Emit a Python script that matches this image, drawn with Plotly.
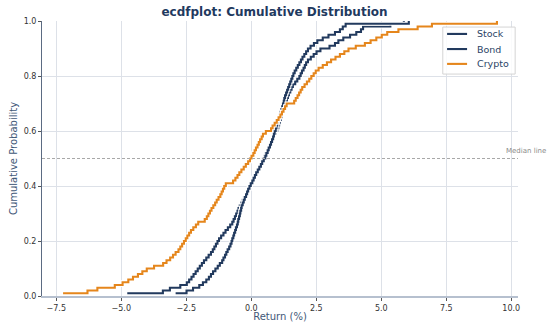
import plotly.graph_objects as go

# Daily returns (%) per asset, 100 observations each
stock_returns = [
    -4.77, -3.40, -3.13, -2.73, -2.48, -2.39, -2.30, -2.22, -2.14, -2.06,
    -1.98, -1.90, -1.82, -1.73, -1.64, -1.55, -1.48, -1.42, -1.36, -1.30,
    -1.24, -1.16, -1.07, -0.99, -0.90, -0.81, -0.73, -0.68, -0.63, -0.58,
    -0.53, -0.49, -0.44, -0.39, -0.33, -0.28, -0.23, -0.17, -0.12, -0.07,
    -0.02, 0.03, 0.08, 0.14, 0.19, 0.24, 0.30, 0.35, 0.40, 0.45,
    0.50, 0.55, 0.61, 0.66, 0.70, 0.75, 0.80, 0.85, 0.90, 0.95,
    1.00, 1.04, 1.07, 1.10, 1.14, 1.17, 1.20, 1.23, 1.27, 1.30,
    1.33, 1.37, 1.41, 1.45, 1.50, 1.55, 1.60, 1.69, 1.77, 1.85,
    1.90, 1.95, 2.01, 2.06, 2.11, 2.18, 2.29, 2.40, 2.51, 2.66,
    3.01, 3.22, 3.35, 3.54, 3.80, 4.04, 4.22, 4.30, 5.35, 5.87,
]

bond_returns = [
    -2.91, -2.49, -2.24, -2.00, -1.86, -1.73, -1.63, -1.55, -1.47, -1.38,
    -1.29, -1.21, -1.12, -1.07, -1.01, -0.96, -0.91, -0.85, -0.80, -0.76,
    -0.73, -0.69, -0.66, -0.62, -0.59, -0.55, -0.52, -0.50, -0.47, -0.44,
    -0.42, -0.39, -0.37, -0.33, -0.29, -0.25, -0.20, -0.16, -0.12, -0.07,
    -0.02, 0.04, 0.09, 0.14, 0.19, 0.25, 0.31, 0.37, 0.42, 0.48,
    0.54, 0.58, 0.63, 0.67, 0.72, 0.76, 0.80, 0.84, 0.87, 0.90,
    0.94, 0.97, 1.00, 1.03, 1.07, 1.10, 1.13, 1.16, 1.19, 1.22,
    1.25, 1.27, 1.30, 1.34, 1.38, 1.42, 1.46, 1.50, 1.54, 1.58,
    1.62, 1.67, 1.73, 1.79, 1.85, 1.91, 1.97, 2.04, 2.11, 2.18,
    2.28, 2.41, 2.54, 2.75, 2.97, 3.22, 3.41, 3.52, 3.63, 6.06,
]

crypto_returns = [
    -7.24, -6.30, -5.92, -5.25, -4.95, -4.73, -4.55, -4.36, -4.19, -4.02,
    -3.74, -3.39, -3.26, -3.12, -3.01, -2.91, -2.80, -2.73, -2.66, -2.59,
    -2.52, -2.46, -2.39, -2.32, -2.23, -2.13, -2.04, -1.79, -1.71, -1.65,
    -1.59, -1.53, -1.46, -1.39, -1.33, -1.26, -1.19, -1.14, -1.09, -1.04,
    -0.98, -0.70, -0.61, -0.53, -0.46, -0.38, -0.29, -0.21, -0.12, -0.05,
    0.01, 0.08, 0.13, 0.18, 0.24, 0.29, 0.34, 0.40, 0.45, 0.56,
    0.76, 0.82, 0.90, 0.98, 1.05, 1.12, 1.18, 1.24, 1.30, 1.36,
    1.65, 1.71, 1.78, 1.84, 1.90, 1.96, 2.05, 2.14, 2.23, 2.31,
    2.40, 2.48, 2.59, 2.75, 2.91, 3.07, 3.24, 3.41, 3.58, 3.74,
    4.02, 4.37, 4.59, 4.81, 5.02, 5.23, 5.66, 6.40, 6.95, 9.45,
]

series_names = ["Stock", "Bond", "Crypto"]
series_data = [stock_returns, bond_returns, crypto_returns]
series_colors = ["#223a5e", "#223a5e", "#e5861c"]

x_ticks = [-7.5, -5.0, -2.5, 0.0, 2.5, 5.0, 7.5, 10.0]
y_ticks = [0.0, 0.2, 0.4, 0.6, 0.8, 1.0]
median_level = 0.5

FONT = "DejaVu Sans, Liberation Sans, sans-serif"

fig = go.Figure()

for name, values, color in zip(series_names, series_data, series_colors):
    xs = sorted(values)
    n = len(xs)
    ys = [(i + 1) / n for i in range(n)]
    # light halo beneath each step curve
    fig.add_trace(go.Scatter(
        x=xs, y=ys, mode="lines", line=dict(color="white", width=4.2, shape="hv"),
        showlegend=False, hoverinfo="skip",
    ))
    fig.add_trace(go.Scatter(
        x=xs, y=ys, mode="lines", name=name, showlegend=False,
        line=dict(color=color, width=2.1, shape="hv"),
    ))

# dashed reference at the median probability
fig.add_shape(
    type="line", xref="paper", yref="y", x0=0, x1=1, y0=median_level, y1=median_level,
    line=dict(color="#a8a8a8", width=1, dash="3px,2px"), layer="above",
)
fig.add_annotation(
    xref="paper", yref="y", x=1, y=median_level, xanchor="left", yanchor="bottom",
    xshift=-14, yshift=2, text="Median line", showarrow=False,
    font=dict(family=FONT, size=7, color="#8a8a8a"),
)

# compact legend box in the upper-right corner of the plot area
legend_box = dict(x0=0.842, x1=0.994, y0=0.807, y1=0.978)
legend_rows = [0.953, 0.898, 0.844]
fig.add_shape(
    type="rect", xref="paper", yref="paper", **legend_box,
    line=dict(color="#d4d4d4", width=1), fillcolor="rgba(255,255,255,0.85)", layer="above",
)
for name, color, ry in zip(series_names, series_colors, legend_rows):
    fig.add_shape(
        type="line", xref="paper", yref="paper", x0=0.851, x1=0.893, y0=ry, y1=ry,
        line=dict(color=color, width=2.1), layer="above",
    )
    fig.add_annotation(
        xref="paper", yref="paper", x=0.910, y=ry, xanchor="left", yanchor="middle",
        text=name, showarrow=False, font=dict(family=FONT, size=9.5, color="#2c4466"),
    )

axis_common = dict(
    showgrid=True, gridcolor="#dde1e8", gridwidth=1,
    showline=True, ticks="outside", ticklen=3, tickwidth=1,
    tickfont=dict(family=FONT, size=8, color="#333333"),
    zeroline=False, mirror=False, automargin=False,
)

fig.update_xaxes(
    **axis_common, range=[-8.05, 10.26], tickvals=x_ticks, tickformat=".1f",
    linecolor="#b6c0cf", linewidth=2, tickcolor="#555555",
    title=dict(text="Return (%)", font=dict(family=FONT, size=10, color="#3f5878"), standoff=1),
)
fig.update_yaxes(
    **axis_common, range=[0, 1.0], tickvals=y_ticks, tickformat=".1f",
    linecolor="#5b6b82", linewidth=1, tickcolor="#555555",
    title=dict(text="Cumulative Probability", font=dict(family=FONT, size=10, color="#3f5878"), standoff=4),
)

fig.update_layout(
    width=549, height=322,
    margin=dict(l=42, r=31, t=21, b=26, autoexpand=False),
    paper_bgcolor="white", plot_bgcolor="white",
    title=dict(
        text="<b>ecdfplot: Cumulative Distribution</b>",
        x=0.5, xanchor="center", y=1 - 12 / 322, yanchor="middle",
        font=dict(family=FONT, size=12, color="#1f3a5f"),
    ),
    showlegend=False,
)

fig.write_html("out.html")
